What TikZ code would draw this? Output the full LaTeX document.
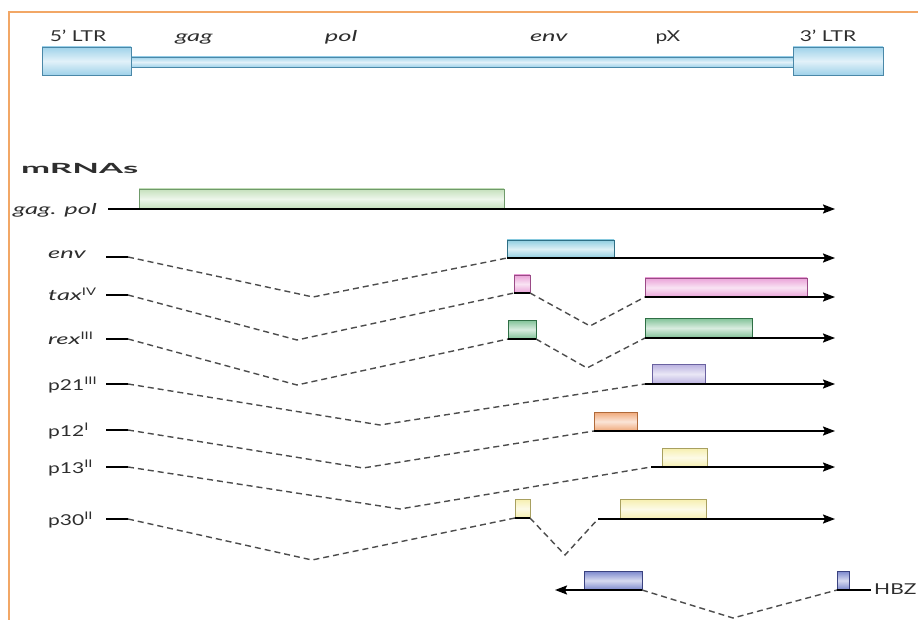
\documentclass[tikz,border=0pt]{standalone}
\usepackage{fontspec}
\usepackage{graphicx}
\setmainfont{Lato}[UprightFeatures={FakeStretch=1.4}, ItalicFeatures={FakeStretch=1.7}, BoldFeatures={FakeStretch=1.6}]
\usetikzlibrary{arrows.meta}
\definecolor{frameor}{HTML}{F2A766}
\definecolor{ltrfill}{HTML}{9FD2EA}
\definecolor{ltrdraw}{HTML}{4A88A8}
\definecolor{gpfill}{HTML}{C5E0BC}
\definecolor{gpdraw}{HTML}{6F9A6A}
\definecolor{envfill}{HTML}{8FCDE0}
\definecolor{envdraw}{HTML}{2F6F85}
\definecolor{taxfill}{HTML}{EAA2D8}
\definecolor{taxdraw}{HTML}{9A4A86}
\definecolor{rexfill}{HTML}{7FC196}
\definecolor{rexdraw}{HTML}{2F6F45}
\definecolor{purfill}{HTML}{B9B0E0}
\definecolor{purdraw}{HTML}{6A62A0}
\definecolor{orfill}{HTML}{F0A878}
\definecolor{ordraw}{HTML}{B06A3A}
\definecolor{yefill}{HTML}{F6EFAE}
\definecolor{yedraw}{HTML}{A8A060}
\definecolor{hbzfill}{HTML}{7A86CC}
\definecolor{hbzdraw}{HTML}{3A4280}
\definecolor{labcol}{HTML}{2E2E2E}
\tikzset{
  exon/.style 2 args={draw=#2, line width=0.8pt, top color=#1, bottom color=#1, middle color=#1!30!white, inner sep=0pt, outer sep=0pt, anchor=north west},
  mainline/.style={line width=1.8pt, black},
  arr/.style={mainline, -{Stealth[length=12pt,width=9pt,inset=2pt]}},
  splice/.style={line width=1.4pt, draw=black!70, dash pattern=on 6pt off 4pt},
  stub/.style={line width=1.8pt, black},
  lab/.style={font=\fontsize{15}{18}\selectfont, inner sep=0pt, text=labcol},
  toplab/.style={lab, anchor=base},
  rowlab/.style={lab, anchor=west},
  frameline/.style={line width=1.2pt, draw=frameor},
}
\newcommand{\exonbox}[7]{\node[exon={#6}{#7}, minimum width=#4pt, minimum height=#5pt] (#1) at (#2,#3) {};}
\begin{document}
\begin{tikzpicture}[x=1pt,y=-1pt]
\useasboundingbox (0,0) rectangle (918,620);
% frame
\coordinate (frTR) at (918,12);
\coordinate (frTL) at (9,12);
\coordinate (frBL) at (9,620);
\draw[frameline] (frTR) -- (frTL) -- (frBL);

% genome
\exonbox{bar}{131}{57}{662}{10}{ltrfill}{ltrdraw}
\exonbox{ltrL}{42}{47}{89}{28}{ltrfill}{ltrdraw}
\exonbox{ltrR}{793}{47}{90}{28}{ltrfill}{ltrdraw}
\node[toplab] (t5) at (78,42) {5’ LTR};
\node[toplab] (tgag) at (194,42) {\textit{gag}};
\node[toplab] (tpol) at (341,42) {\textit{pol}};
\node[toplab] (tenv) at (549,42) {\textit{env}};
\node[toplab] (tpx) at (668,42) {pX};
\node[toplab] (t3) at (828,42) {3’ LTR};

\node[lab, anchor=west, font=\fontsize{14}{16}\selectfont\bfseries] (mrna) at (21,168) {\scalebox{1.55}[1]{mRNAs}};

% gag.pol
\node[rowlab] (lgp) at (13,210) {\textit{gag. pol}};
\coordinate (gpS) at (108,209);
\coordinate (gpE) at (835,209);
\exonbox{gpA}{139}{189}{365}{20}{gpfill}{gpdraw}
\draw[arr] (gpS) -- (gpE);

% env
\node[rowlab] (lenv) at (48,255) {\textit{env}};
\coordinate (envS1) at (106,257);
\coordinate (envS2) at (128,257);
\coordinate (envV) at (313,297);
\coordinate (envE) at (835,258);
\exonbox{envA}{507}{240}{107}{18}{envfill}{envdraw}
\draw[stub] (envS1) -- (envS2);
\draw[splice] (envS2) -- (envV) -- (envA.south west);
\draw[arr] (envA.south west) -- (envE);

% tax
\node[rowlab] (ltax) at (48,294) {\textit{tax}\textsuperscript{IV}};
\coordinate (taxS1) at (106,295);
\coordinate (taxS2) at (128,295);
\coordinate (taxV) at (297,340);
\coordinate (taxV2) at (590,326);
\coordinate (taxE) at (835,297);
\exonbox{taxA}{514}{275}{16}{18}{taxfill}{taxdraw}
\exonbox{taxB}{645}{278}{162}{19}{taxfill}{taxdraw}
\draw[stub] (taxS1) -- (taxS2);
\draw[splice] (taxS2) -- (taxV) -- (taxA.south west);
\draw[splice] (taxA.south east) -- (taxV2) -- (taxB.south west);
\draw[mainline] (taxA.south west) -- (taxA.south east);
\draw[arr] (taxB.south west) -- (taxE);

% rex
\node[rowlab] (lrex) at (48,338) {\textit{rex}\textsuperscript{III}};
\coordinate (rexS1) at (106,339);
\coordinate (rexS2) at (128,339);
\coordinate (rexV) at (297,385);
\coordinate (rexV2) at (587,368);
\coordinate (rexE) at (835,338);
\exonbox{rexA}{508}{320}{28}{19}{rexfill}{rexdraw}
\exonbox{rexB}{645}{318}{107}{20}{rexfill}{rexdraw}
\draw[stub] (rexS1) -- (rexS2);
\draw[splice] (rexS2) -- (rexV) -- (rexA.south west);
\draw[splice] (rexA.south east) -- (rexV2) -- (rexB.south west);
\draw[mainline] (rexA.south west) -- (rexA.south east);
\draw[arr] (rexB.south west) -- (rexE);

% p21
\node[rowlab] (lp21) at (48,385) {p21\textsuperscript{III}};
\coordinate (p21S1) at (106,384);
\coordinate (p21S2) at (128,384);
\coordinate (p21V) at (380,425);
\coordinate (p21L) at (645,384);
\coordinate (p21E) at (835,384);
\exonbox{p21A}{652}{364}{53}{20}{purfill}{purdraw}
\draw[stub] (p21S1) -- (p21S2);
\draw[splice] (p21S2) -- (p21V) -- (p21L);
\draw[arr] (p21L) -- (p21E);

% p12
\node[rowlab] (lp12) at (48,431) {p12\textsuperscript{I}};
\coordinate (p12S1) at (106,430);
\coordinate (p12S2) at (128,430);
\coordinate (p12V) at (363,468);
\coordinate (p12E) at (835,431);
\exonbox{p12A}{594}{412}{43}{19}{orfill}{ordraw}
\draw[stub] (p12S1) -- (p12S2);
\draw[splice] (p12S2) -- (p12V) -- (p12A.south west);
\draw[arr] (p12A.south west) -- (p12E);

% p13
\node[rowlab] (lp13) at (48,468) {p13\textsuperscript{II}};
\coordinate (p13S1) at (106,467);
\coordinate (p13S2) at (128,467);
\coordinate (p13V) at (400,509);
\coordinate (p13L) at (651,467);
\coordinate (p13E) at (835,467);
\exonbox{p13A}{662}{448}{45}{19}{yefill}{yedraw}
\draw[stub] (p13S1) -- (p13S2);
\draw[splice] (p13S2) -- (p13V) -- (p13L);
\draw[arr] (p13L) -- (p13E);

% p30
\node[rowlab] (lp30) at (48,520) {p30\textsuperscript{II}};
\coordinate (p30S1) at (106,519);
\coordinate (p30S2) at (128,519);
\coordinate (p30V) at (312,560);
\coordinate (p30V2) at (565,555);
\coordinate (p30L) at (598,519);
\coordinate (p30E) at (835,519);
\exonbox{p30A}{515}{499}{15}{19}{yefill}{yedraw}
\exonbox{p30B}{620}{499}{86}{20}{yefill}{yedraw}
\draw[stub] (p30S1) -- (p30S2);
\draw[splice] (p30S2) -- (p30V) -- (p30A.south west);
\draw[splice] (p30A.south east) -- (p30V2) -- (p30L);
\draw[mainline] (p30A.south west) -- (p30A.south east);
\draw[arr] (p30L) -- (p30E);

% HBZ
\coordinate (hbzE) at (555,590);
\coordinate (hbzV) at (733,618);
\coordinate (hbzT) at (871,590);
\exonbox{hbzA}{584}{571}{58}{19}{hbzfill}{hbzdraw}
\exonbox{hbzB}{837}{571}{12}{19}{hbzfill}{hbzdraw}
\draw[splice] (hbzA.south east) -- (hbzV) -- (hbzB.south west);
\draw[arr] (hbzA.south east) -- (hbzE);
\draw[mainline] (hbzB.south west) -- (hbzT);
\node[rowlab] (lhbz) at (874,589) {HBZ};
\end{tikzpicture}
\end{document}
